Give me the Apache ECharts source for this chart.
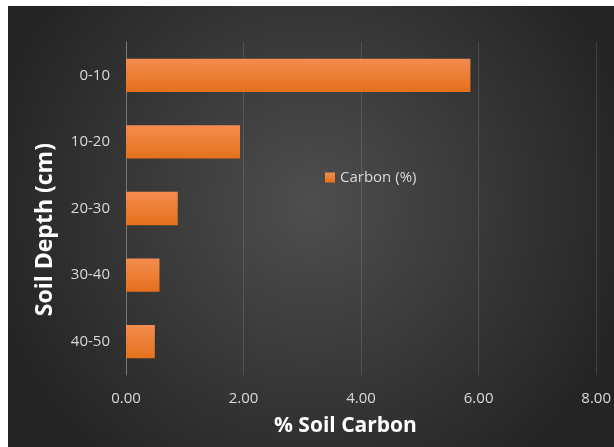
<!DOCTYPE html>
<html>
<head>
<meta charset="utf-8">
<script src="https://cdn.jsdelivr.net/npm/echarts@6/dist/echarts.min.js"></script>
<style>
  html, body { margin: 0; padding: 0; background: #ffffff; }
  #main { position: absolute; left: 8px; top: 6px; width: 606px; height: 441px; }
</style>
</head>
<body>
<div id="main"></div>
<script>
// 数据
var depths = ['0-10', '10-20', '20-30', '30-40', '40-50'];
var carbon = [5.86, 1.94, 0.88, 0.57, 0.49];
var xTicks = [0, 2, 4, 6, 8];

var myChart = echarts.init(document.getElementById('main'));

var option = {
    backgroundColor: {
        type: 'radial', x: 0.5, y: 0.45, r: 0.75,
        colorStops: [
            { offset: 0, color: '#4e4e4e' },
            { offset: 1, color: '#242424' }
        ]
    },
    textStyle: { fontFamily: 'Open Sans' },
    grid: { left: 118, right: 14, top: 36, bottom: 72 },
    legend: {
        left: 312, top: 159,
        itemWidth: 10, itemHeight: 10, icon: 'rect', itemGap: 5,
        textStyle: { color: '#d9d9d9', fontSize: 15 },
        data: ['Carbon (%)']
    },
    xAxis: {
        type: 'value',
        min: xTicks[0], max: xTicks[xTicks.length - 1], interval: 2,
        axisLine: { show: false },
        axisTick: { show: false },
        axisLabel: {
            color: '#d9d9d9', fontSize: 15, margin: 16,
            formatter: function (v) { return v.toFixed(2); }
        },
        splitLine: { lineStyle: { color: 'rgba(255,255,255,0.13)', width: 1 } }
    },
    yAxis: {
        type: 'category',
        inverse: true,
        data: depths,
        axisLine: { show: true, lineStyle: { color: '#777777' } },
        axisTick: { show: false },
        axisLabel: { color: '#d9d9d9', fontSize: 15, margin: 16 }
    },
    graphic: [
        {
            type: 'text', left: 266, top: 410,
            style: { text: '% Soil Carbon', fill: '#ffffff', font: 'bold 21px "Open Sans"' }
        },
        {
            type: 'text', left: 26, top: 137, rotation: Math.PI / 2,
            style: { text: 'Soil Depth (cm)', fill: '#ffffff', font: 'bold 23px "Open Sans"' }
        }
    ],
    series: [{
        name: 'Carbon (%)',
        type: 'bar',
        data: carbon,
        barWidth: '50%',
        itemStyle: {
            color: {
                type: 'linear', x: 0, y: 0, x2: 0, y2: 1,
                colorStops: [
                    { offset: 0, color: '#f38d4f' },
                    { offset: 1, color: '#e5701c' }
                ]
            },
            shadowColor: 'rgba(0,0,0,0.55)',
            shadowBlur: 4,
            shadowOffsetX: 2,
            shadowOffsetY: 2
        }
    }]
};

myChart.setOption(option);
</script>
</body>
</html>
